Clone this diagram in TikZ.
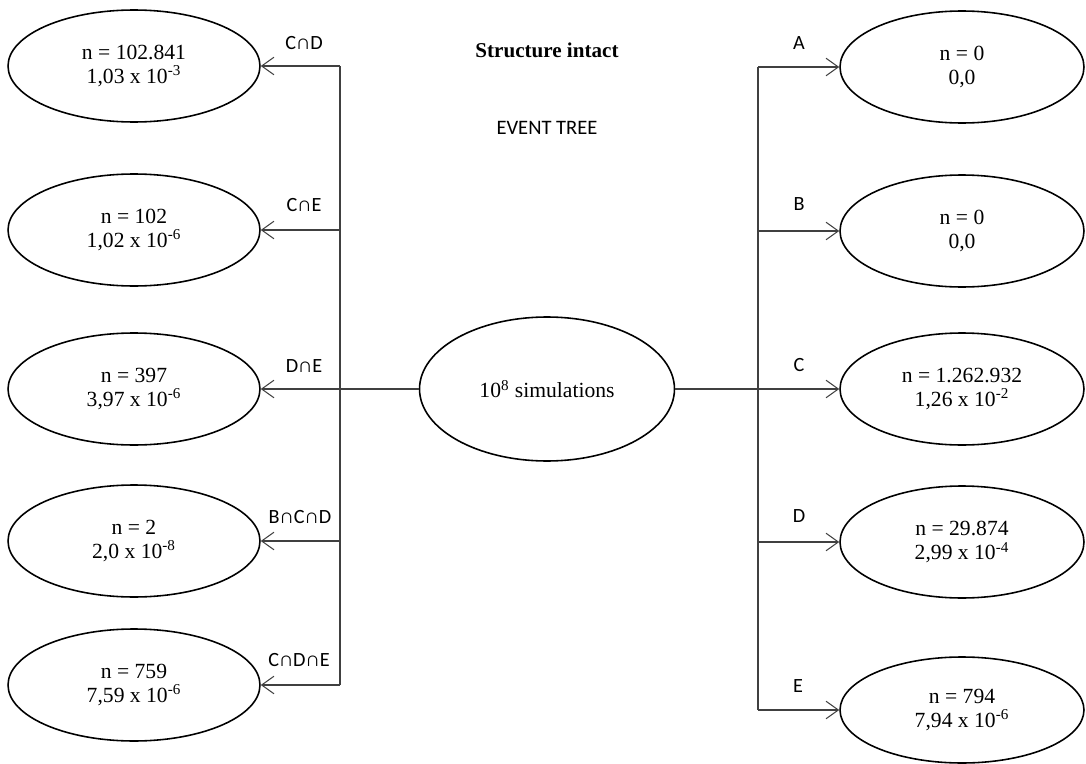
\documentclass[tikz,border=0pt]{standalone}
\usepackage{fontspec}
\setmainfont{Liberation Serif}
\newfontfamily\labfont{Carlito}
\usetikzlibrary{shapes.geometric,arrows.meta}
\tikzset{
  ev/.style={ellipse,draw=black,line width=0.9pt,inner sep=0pt,
    minimum width=5.04cm,minimum height=2.24cm,align=center,
    font=\fontsize{12.3}{13.8}\selectfont},
  evr/.style={ev,minimum width=4.88cm},
  mid/.style={ellipse,draw=black,line width=0.9pt,inner sep=0pt,
    minimum width=5.1cm,minimum height=2.88cm,align=center,
    font=\fontsize{12.3}{13.8}\selectfont},
  conn/.style={draw=black!75,line width=0.7pt},
  arr/.style={conn,-{Straight Barb[length=7pt,width=10pt,line width=0.6pt]}},
  lab/.style={font=\labfont\fontsize{11.5}{13}\selectfont,inner sep=1pt},
}
\begin{document}
\begin{tikzpicture}[x=0.02cm,y=-0.02cm]
\useasboundingbox (0,0) rectangle (1086,764);
% titles
\node[font=\bfseries\fontsize{12}{14}\selectfont] (title) at (547,50) {Structure intact};
\node[font=\labfont\fontsize{11.7}{13}\selectfont] (sub) at (547,128) {EVENT TREE};
% centre
\node[mid] (c) at (547,389) {10\textsuperscript{8} simulations};
% left outcomes
\node[ev] (L1) at (134,66) {n = 102.841\\1,03 x 10\textsuperscript{-3}};
\node[ev] (L2) at (134,230) {n = 102\\1,02 x 10\textsuperscript{-6}};
\node[ev] (L3) at (134,389) {n = 397\\3,97 x 10\textsuperscript{-6}};
\node[ev] (L4) at (134,541) {n = 2\\2,0 x 10\textsuperscript{-8}};
\node[ev] (L5) at (134,685) {n = 759\\7,59 x 10\textsuperscript{-6}};
% right outcomes
\node[evr] (R1) at (962,67) {n = 0\\0,0};
\node[evr] (R2) at (962,231) {n = 0\\0,0};
\node[evr] (R3) at (962,389) {n = 1.262.932\\1,26 x 10\textsuperscript{-2}};
\node[evr] (R4) at (962,542) {n = 29.874\\2,99 x 10\textsuperscript{-4}};
\node[evr,minimum height=2.12cm] (R5) at (962,710) {n = 794\\7,94 x 10\textsuperscript{-6}};
% junction coordinates
\coordinate (jl) at (340,389);
\coordinate (l1) at (340,66);
\coordinate (l2) at (340,230);
\coordinate (l3) at (340,389);
\coordinate (l4) at (340,541);
\coordinate (l5) at (340,685);
\coordinate (jr) at (758,389);
\coordinate (r1) at (758,67);
\coordinate (r2) at (758,231);
\coordinate (r3) at (758,389);
\coordinate (r4) at (758,542);
\coordinate (r5) at (758,710);
% trunk lines
\draw[conn] (c.west) -- (jl);
\draw[conn] (c.east) -- (jr);
\draw[conn] (l1) -- (l5);
\draw[conn] (r1) -- (r5);
% branches
\draw[arr] (l1) -- (L1.east);
\draw[arr] (l2) -- (L2.east);
\draw[arr] (l3) -- (L3.east);
\draw[arr] (l4) -- (L4.east);
\draw[arr] (l5) -- (L5.east);
\draw[arr] (r1) -- (R1.west);
\draw[arr] (r2) -- (R2.west);
\draw[arr] (r3) -- (R3.west);
\draw[arr] (r4) -- (R4.west);
\draw[arr] (r5) -- (R5.west);
% labels
\node[lab] (tl1) at (304,43) {C∩D};
\node[lab] (tl2) at (304,205) {C∩E};
\node[lab] (tl3) at (304,366) {D∩E};
\node[lab] (tl4) at (300,517) {B∩C∩D};
\node[lab] (tl5) at (299,660) {C∩D∩E};
\node[lab] (tr1) at (799,43) {A};
\node[lab] (tr2) at (799,204) {B};
\node[lab] (tr3) at (799,365) {C};
\node[lab] (tr4) at (799,516) {D};
\node[lab] (tr5) at (798,686) {E};
\end{tikzpicture}
\end{document}
